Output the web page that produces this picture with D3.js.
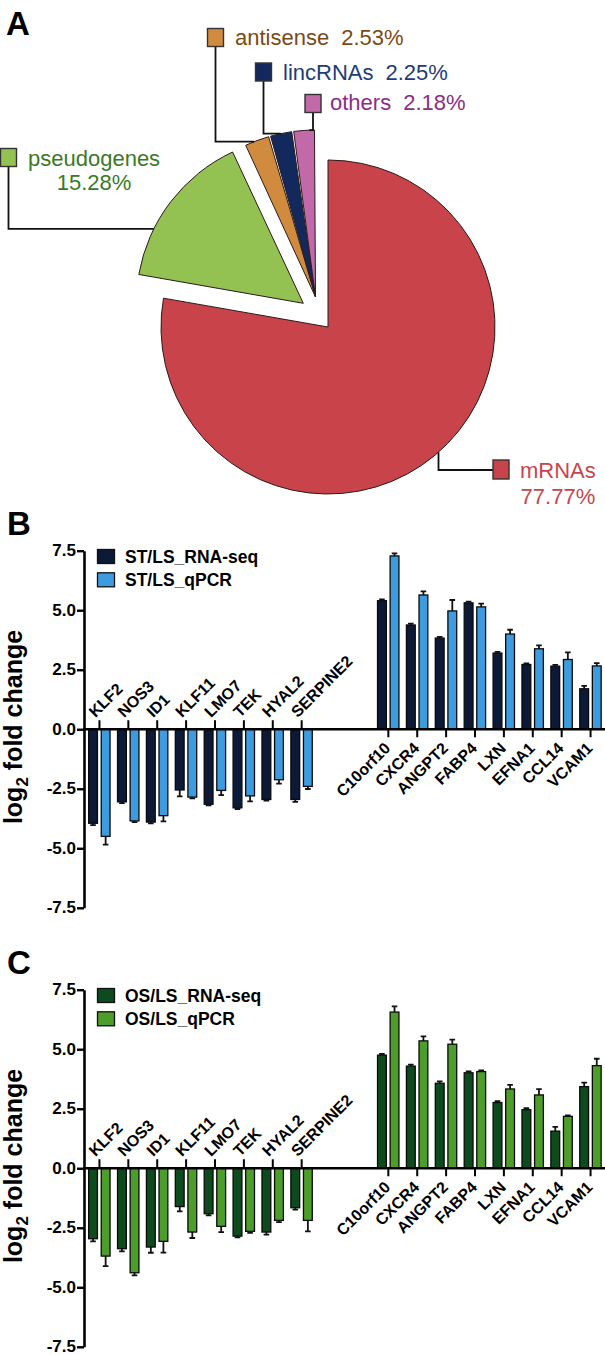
<!DOCTYPE html>
<html><head><meta charset="utf-8">
<script src="https://cdn.jsdelivr.net/npm/d3@7"></script>
<style>body{margin:0;background:#fff}svg{display:block}text{font-family:"Liberation Sans",Arial,Helvetica,sans-serif}</style>
</head><body><svg id="chart" width="605" height="1355"></svg>
<script>
// ---------- data ----------
const pieCategories = ["mRNAs", "pseudogenes", "antisense", "lincRNAs", "others"];
const piePercents = [77.77, 15.28, 2.53, 2.25, 2.18];
const pieLabels = ["77.77%", "15.28%", "2.53%", "2.25%", "2.18%"];

const genes = ["KLF2","NOS3","ID1","KLF11","LMO7","TEK","HYAL2","SERPINE2",
               "C10orf10","CXCR4","ANGPT2","FABP4","LXN","EFNA1","CCL14","VCAM1"];
const yTicks = [-7.5, -5, -2.5, 0, 2.5, 5, 7.5];

const stSeries = ["ST/LS_RNA-seq", "ST/LS_qPCR"];
const stRnaSeq    = [-3.95,-3.05,-3.90,-2.55,-3.15,-3.30,-2.95,-2.95, 5.40,4.38,3.83,5.31,3.20,2.72,2.65,1.70];
const stRnaSeqErr = [ 0.08, 0.05, 0.05, 0.27, 0.05, 0.05, 0.05, 0.10, 0.05,0.06,0.05,0.05,0.05,0.05,0.05,0.12];
const stQpcr      = [-4.50,-3.85,-3.63,-2.85,-2.57,-2.80,-2.12,-2.40, 7.28,5.64,4.97,5.14,4.00,3.38,2.93,2.66];
const stQpcrErr   = [ 0.35, 0.05, 0.24, 0.05, 0.20, 0.23, 0.16, 0.11, 0.11,0.15,0.46,0.14,0.18,0.14,0.30,0.12];

const osSeries = ["OS/LS_RNA-seq", "OS/LS_qPCR"];
const osRnaSeq    = [-2.96,-3.38,-3.31,-1.61,-1.91,-2.85,-2.68,-1.66, 4.75,4.29,3.57,4.01,2.76,2.46,1.56,3.43];
const osRnaSeqErr = [ 0.11, 0.11, 0.24, 0.20, 0.07, 0.05, 0.11, 0.08, 0.05,0.06,0.08,0.06,0.06,0.06,0.18,0.17];
const osQpcr      = [-3.69,-4.39,-3.07,-2.68,-2.44,-2.65,-2.19,-2.19, 6.56,5.35,5.21,4.06,3.33,3.08,2.18,4.31];
const osQpcrErr   = [ 0.42, 0.11, 0.47, 0.25, 0.24, 0.06, 0.07, 0.46, 0.24,0.19,0.19,0.05,0.17,0.24,0.04,0.29];

// ---------- styles / layout ----------
const pieFill = ["#c8444a","#93c152","#d08b3e","#13295e","#c26aa9"];
const pieText = ["#c9454d","#3b7a1f","#7b4a14","#1d3c78","#8c2c85"];
const svg = d3.select("#chart");

// ---------- panel A: pie ----------
const cx = 328, cy = 327, R = 167;
const explode = [[0,0],[-24.7,-23.7],[-12.5,-30],[-12.5,-30],[-12.5,-30]];
const arcs = d3.pie().sort(null).value(d => d)(piePercents);
arcs.forEach((a,i) => a.padAngle = i >= 2 ? 0.012 : 0);
const arcGen = d3.arc().innerRadius(0).outerRadius(R);
const gA = svg.append("g");
gA.selectAll("path.slice").data(arcs).join("path")
  .attr("class","slice")
  .attr("transform",(d,i)=>`translate(${cx+explode[i][0]},${cy+explode[i][1]})`)
  .attr("d", arcGen)
  .attr("fill",(d,i)=>pieFill[i])
  .attr("stroke","#2a1a1a").attr("stroke-width",1);

// labels
const leaderFrac = [0.495, 0.30, 0.38, 0.49, 0.73];
const boxPos = [[493,460],[0.5,148.5],[207.5,28.5],[255.5,63],[305,94.5]];
const textPos = [[520,477.7],[28,166],[235,45],[283,80],[330,110]];
function arcPoint(i){
  const a = arcs[i].startAngle + leaderFrac[i]*(arcs[i].endAngle-arcs[i].startAngle);
  return [cx+explode[i][0]+R*Math.sin(a), cy+explode[i][1]-R*Math.cos(a)];
}
const bw = 16, bh = 18;
pieCategories.forEach((name,i)=>{
  const p = arcPoint(i);
  const [bx,by] = boxPos[i];
  let path;
  if(i===0){ path = `M${p[0]},${p[1]}V${by+bh/2+1}H${bx}`; }
  else { path = `M${bx+bw/2},${by+bh}V${p[1]}H${p[0]}`; }
  gA.append("path").attr("d",path).attr("fill","none").attr("stroke","#111").attr("stroke-width",1.8);
  gA.append("rect").attr("x",bx).attr("y",by).attr("width",bw).attr("height",i===0?bh+1:bh)
    .attr("fill",pieFill[i]).attr("stroke","#333").attr("stroke-width",1.4);
  const t = gA.append("text").attr("x",textPos[i][0]).attr("y",textPos[i][1])
    .attr("fill",pieText[i]).attr("font-size",22);
  if(i<=1){
    t.text(name);
    const nameW = t.node().getComputedTextLength();
    gA.append("text").attr("x",textPos[i][0]+nameW/2).attr("y",textPos[i][1]+(i===0?26.3:24))
      .attr("text-anchor","middle").attr("fill",pieText[i]).attr("font-size",22).text(pieLabels[i]);
  } else {
    t.append("tspan").text(name);
    t.append("tspan").attr("dx",12).text(pieLabels[i]);
  }
});
svg.append("text").attr("x",6).attr("y",35).attr("font-size",33).attr("font-weight","bold").text("A");

// ---------- panels B, C ----------
const slots = [...genes.slice(0,8), "gap1", "gap2", ...genes.slice(8)];
const x = d3.scaleBand().domain(slots).range([85,605]).padding(0);
const fmt = d => d.toFixed(1);

function drawPanel(o){
  const g = svg.append("g");
  const y = d3.scaleLinear().domain([-7.5,7.5]).range([907.8+o.dy, 550.7+o.dy]);
  const inner = d3.scaleBand().domain([0,1]).range([-10.8,10.6]).paddingInner(0.3);
  const series = [
    {vals:o.a, errs:o.ae, color:o.colors[0]},
    {vals:o.b, errs:o.be, color:o.colors[1]}
  ];
  series.forEach((s,si)=>{
    const gs = g.append("g");
    gs.selectAll("rect").data(genes).join("rect")
      .attr("x", (d,i)=> x.bandwidth()/2 + x(d) + inner(si))
      .attr("y", (d,i)=> Math.min(y(s.vals[i]), y(0)))
      .attr("width", inner.bandwidth())
      .attr("height", (d,i)=> Math.abs(y(s.vals[i]) - y(0)))
      .attr("fill", s.color).attr("stroke","#0a0a0a").attr("stroke-width",1.3);
    gs.selectAll("path.err").data(genes).join("path").attr("class","err")
      .attr("d",(d,i)=>{
        const v = s.vals[i], e = s.errs[i]*Math.sign(v);
        const xc = x.bandwidth()/2 + x(d) + inner(si) + inner.bandwidth()/2;
        const y1 = y(v), y2 = y(v+e);
        return `M${xc},${y1}V${y2}M${xc-2.8},${y2}H${xc+2.8}`;
      })
      .attr("fill","none").attr("stroke","#111").attr("stroke-width",1.8);
  });
  const ax = g.append("g").attr("transform","translate(84,0)")
    .call(d3.axisLeft(y).tickValues(yTicks).tickFormat(fmt).tickSize(7).tickSizeOuter(0).tickPadding(1));
  ax.select(".domain").attr("stroke","#000").attr("stroke-width",2.6);
  ax.selectAll(".tick line").attr("stroke","#000").attr("stroke-width",2.4);
  ax.selectAll(".tick text").attr("font-size",17).attr("font-weight","bold").attr("fill","#000")
    .attr("dy","0.3em").attr("font-family","'Liberation Sans',Arial,sans-serif");
  g.append("line").attr("x1",83).attr("x2",605).attr("y1",y(0)).attr("y2",y(0))
    .attr("stroke","#000").attr("stroke-width",2.6);
  genes.forEach((gname,i)=>{
    const xc = x(gname) + x.bandwidth()/2;
    const neg = o.a[i] < 0;
    g.append("line").attr("x1",xc).attr("x2",xc)
      .attr("y1",y(0)).attr("y2",y(0)+(neg?-9:8))
      .attr("stroke","#000").attr("stroke-width",2);
    if(neg){
      g.append("text").attr("transform",`translate(${xc-4},${y(0)-11}) rotate(-45)`)
        .attr("font-size",16).attr("font-weight","bold").text(gname);
    } else {
      g.append("text").attr("transform",`translate(${xc+3},${y(0)+20}) rotate(-45)`)
        .attr("text-anchor","end").attr("font-size",16).attr("font-weight","bold").text(gname);
    }
  });
  o.names.forEach((nm,k)=>{
    g.append("rect").attr("x",97.5).attr("y",549.5+o.dy+k*23.3).attr("width",17).attr("height",14)
      .attr("fill",o.colors[k]).attr("stroke","#111").attr("stroke-width",1.3);
    g.append("text").attr("x",125).attr("y",562.7+o.dy+k*23.3)
      .attr("font-size",17.5).attr("font-weight","bold").text(nm);
  });
  const t = g.append("text").attr("transform",`translate(22,${727+o.dy}) rotate(-90)`)
    .attr("text-anchor","middle").attr("font-size",25).attr("font-weight","bold");
  t.append("tspan").text("log");
  t.append("tspan").attr("font-size",17).attr("dy",6).text("2");
  t.append("tspan").attr("dy",-6).text(" fold change");
  svg.append("text").attr("x",7).attr("y",535+o.dy).attr("font-size",33).attr("font-weight","bold").text(o.letter);
}

drawPanel({dy:0, a:stRnaSeq, ae:stRnaSeqErr, b:stQpcr, be:stQpcrErr,
  colors:["#0c1a38","#3d9be0"], names:stSeries, letter:"B"});
drawPanel({dy:439, a:osRnaSeq, ae:osRnaSeqErr, b:osQpcr, be:osQpcrErr,
  colors:["#0d4a1d","#4c9d29"], names:osSeries, letter:"C"});
</script></body></html>
